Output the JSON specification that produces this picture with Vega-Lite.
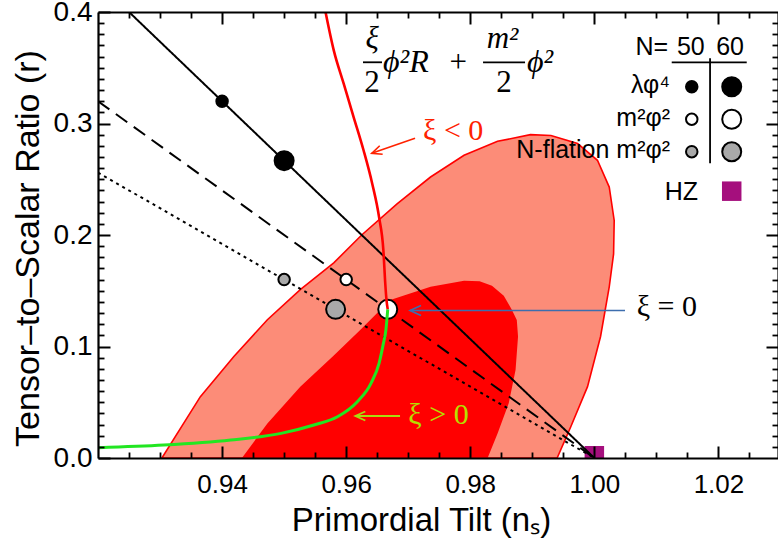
{
  "$schema": "https://vega.github.io/schema/vega-lite/v6.json",
  "width": 680,
  "height": 446,
  "autosize": {"type": "none"},
  "padding": {"left": 98, "top": 12, "right": 0, "bottom": 86},
  "background": "white",
  "config": {
    "view": {"stroke": null},
    "axis": {"labelFont": "Liberation Sans", "titleFont": "Liberation Sans", "labelColor": "black", "titleColor": "black", "tickColor": "black", "domainColor": "black", "grid": false, "titleFontWeight": "normal"}
  },
  "datasets": {
    "outer": [
      {"i": 1, "n": 0.9303, "r": 0},
      {"i": 2, "n": 0.9365, "r": 0.055},
      {"i": 3, "n": 0.9419, "r": 0.091},
      {"i": 4, "n": 0.9473, "r": 0.124},
      {"i": 5, "n": 0.9526, "r": 0.151},
      {"i": 6, "n": 0.958, "r": 0.175},
      {"i": 7, "n": 0.9625, "r": 0.2},
      {"i": 8, "n": 0.9682, "r": 0.228},
      {"i": 9, "n": 0.9736, "r": 0.252},
      {"i": 10, "n": 0.979, "r": 0.2715},
      {"i": 11, "n": 0.9844, "r": 0.284},
      {"i": 12, "n": 0.9897, "r": 0.29},
      {"i": 13, "n": 0.993, "r": 0.2892},
      {"i": 14, "n": 0.9973, "r": 0.282},
      {"i": 15, "n": 1.0005, "r": 0.267},
      {"i": 16, "n": 1.0024, "r": 0.243},
      {"i": 17, "n": 1.0032, "r": 0.213},
      {"i": 18, "n": 1.0031, "r": 0.183},
      {"i": 19, "n": 1.0024, "r": 0.1535},
      {"i": 20, "n": 1.001, "r": 0.109},
      {"i": 21, "n": 0.9989, "r": 0.064},
      {"i": 22, "n": 0.9962, "r": 0.028},
      {"i": 23, "n": 0.994, "r": 0}
    ],
    "inner": [
      {"i": 1, "n": 0.9432, "r": 0},
      {"i": 2, "n": 0.9473, "r": 0.031},
      {"i": 3, "n": 0.9526, "r": 0.064},
      {"i": 4, "n": 0.958, "r": 0.092},
      {"i": 5, "n": 0.9623, "r": 0.115},
      {"i": 6, "n": 0.9671, "r": 0.1416},
      {"i": 7, "n": 0.9736, "r": 0.1535},
      {"i": 8, "n": 0.979, "r": 0.159},
      {"i": 9, "n": 0.9815, "r": 0.1585},
      {"i": 10, "n": 0.9835, "r": 0.1545},
      {"i": 11, "n": 0.9854, "r": 0.1455},
      {"i": 12, "n": 0.9867, "r": 0.133},
      {"i": 13, "n": 0.9875, "r": 0.1237},
      {"i": 14, "n": 0.9877, "r": 0.109},
      {"i": 15, "n": 0.9873, "r": 0.079},
      {"i": 16, "n": 0.9862, "r": 0.049},
      {"i": 17, "n": 0.9844, "r": 0.022},
      {"i": 18, "n": 0.9828, "r": 0}
    ],
    "hz": [
      {"n": 1.0, "r": 0.002},
      {"n": 1.02214, "r": 0.2393}
    ],
    "lines": [
      {"model": "solid", "n": 0.925, "r": 0.4},
      {"model": "solid", "n": 1.0, "r": 0.0},
      {"model": "dashed", "n": 0.92, "r": 0.32},
      {"model": "dashed", "n": 1.0, "r": 0.0},
      {"model": "dotted", "n": 0.92, "r": 0.256},
      {"model": "dotted", "n": 1.0, "r": 0.0}
    ],
    "pts": [
      {"m": "a", "N": 50, "n": 0.94, "r": 0.32},
      {"m": "a", "N": 60, "n": 0.95, "r": 0.2667},
      {"m": "b", "N": 50, "n": 0.96, "r": 0.16},
      {"m": "b", "N": 60, "n": 0.9667, "r": 0.1333},
      {"m": "c", "N": 50, "n": 0.95, "r": 0.16},
      {"m": "c", "N": 60, "n": 0.9583, "r": 0.1333},
      {"m": "a", "N": 50, "n": 1.0157, "r": 0.333},
      {"m": "a", "N": 60, "n": 1.02214, "r": 0.333},
      {"m": "b", "N": 50, "n": 1.0157, "r": 0.3038},
      {"m": "b", "N": 60, "n": 1.02214, "r": 0.3038},
      {"m": "c", "N": 50, "n": 1.0157, "r": 0.2747},
      {"m": "c", "N": 60, "n": 1.02214, "r": 0.2747}
    ],
    "red": [
      {"i": 1, "n": 0.9566, "r": 0.402},
      {"i": 2, "n": 0.958, "r": 0.3656},
      {"i": 3, "n": 0.9596, "r": 0.3357},
      {"i": 4, "n": 0.9612, "r": 0.3058},
      {"i": 5, "n": 0.9628, "r": 0.276},
      {"i": 6, "n": 0.9642, "r": 0.246},
      {"i": 7, "n": 0.9653, "r": 0.216},
      {"i": 8, "n": 0.966, "r": 0.186},
      {"i": 9, "n": 0.9663, "r": 0.1565},
      {"i": 10, "n": 0.9665, "r": 0.1416},
      {"i": 11, "n": 0.9667, "r": 0.1333}
    ],
    "green": [
      {"i": 1, "n": 0.92, "r": 0.0093},
      {"i": 2, "n": 0.9306, "r": 0.0116},
      {"i": 3, "n": 0.9414, "r": 0.0161},
      {"i": 4, "n": 0.9495, "r": 0.0221},
      {"i": 5, "n": 0.9548, "r": 0.0296},
      {"i": 6, "n": 0.9586, "r": 0.037},
      {"i": 7, "n": 0.9618, "r": 0.0505},
      {"i": 8, "n": 0.964, "r": 0.067},
      {"i": 9, "n": 0.9653, "r": 0.0849},
      {"i": 10, "n": 0.966, "r": 0.1028},
      {"i": 11, "n": 0.9664, "r": 0.1147},
      {"i": 12, "n": 0.9667, "r": 0.1333}
    ],
    "blackRules": [
      {"n": 0.96271, "n2": 0.96577, "r": 0.3549, "r2": 0.3549},
      {"n": 0.98206, "n2": 0.98883, "r": 0.3549, "r2": 0.3549},
      {"n": 1.01247, "n2": 1.02456, "r": 0.3549, "r2": 0.3549},
      {"n": 1.01865, "n2": 1.01865, "r": 0.3585, "r2": 0.2643}
    ],
    "redArrow": [{"n": 0.9711, "r": 0.28673, "n2": 0.96412, "r2": 0.27327}],
    "blueArrow": [{"n": 1.00494, "r": 0.13229, "n2": 0.97029, "r2": 0.13229}],
    "ygArrow": [{"n": 0.96868, "r": 0.03767, "n2": 0.96147, "r2": 0.03767}],
    "legendR": [
      {"t": "N=", "n": 1.0119, "r": 0.3614},
      {"t": "λφ⁴", "n": 1.0122, "r": 0.3276},
      {"t": "m²φ²", "n": 1.0122, "r": 0.2978},
      {"t": "N-flation m²φ²", "n": 1.0122, "r": 0.2688},
      {"t": "HZ", "n": 1.0167, "r": 0.2314}
    ],
    "legendC": [
      {"t": "50", "n": 1.01555, "r": 0.3614},
      {"t": "60", "n": 1.02187, "r": 0.3614}
    ],
    "mathItalicC": [
      {"t": "ξ", "n": 0.96417, "r": 0.3677},
      {"t": "m²", "n": 0.9852, "r": 0.3677}
    ],
    "mathC": [
      {"t": "2", "n": 0.96417, "r": 0.3283},
      {"t": "2", "n": 0.98544, "r": 0.3283},
      {"t": "+", "n": 0.97808, "r": 0.3462}
    ],
    "mathItalicL": [
      {"t": "ϕ²R", "n": 0.96594, "r": 0.3462},
      {"t": "ϕ²", "n": 0.98915, "r": 0.3462}
    ],
    "annRed": [{"t": "ξ < 0", "n": 0.97239, "r": 0.2852}],
    "annBlack": [{"t": "ξ = 0", "n": 1.00683, "r": 0.1274}],
    "annYg": [{"t": "ξ > 0", "n": 0.97002, "r": 0.0305}]
  },
  "resolve": {"scale": {"x": "independent", "y": "independent"}, "axis": {"x": "independent", "y": "independent"}},
  "layer": [
    {
      "data": {"name": "outer"},
      "mark": {"type": "line", "interpolate": "linear-closed", "fill": "#fc8c78", "stroke": "#ff0000", "strokeWidth": 1.6, "clip": true},
      "encoding": {
        "x": {"field": "n", "type": "quantitative", "scale": {"domain": [0.92, 1.0296], "nice": false, "zero": false},
          "axis": {"orient": "bottom", "offset": -12, "values": [0.94, 0.96, 0.98, 1, 1.02], "format": ".2f", "ticks": true, "tickSize": 12, "tickWidth": 2, "tickColor": "black", "domain": false, "labelFontSize": 26, "labelPadding": 13, "labelFlush": false, "labelOverlap": false, "title": "Primordial Tilt (nₛ)", "titleFontSize": 33, "titleX": 323, "titleY": 84, "titleBaseline": "alphabetic", "zindex": 1}},
        "y": {"field": "r", "type": "quantitative", "scale": {"domain": [0, 0.4], "nice": false, "zero": false},
          "axis": {"orient": "left", "offset": -12, "values": [0, 0.1, 0.2, 0.3, 0.4], "format": ".1f", "ticks": true, "tickSize": 12, "tickWidth": 2, "tickColor": "black", "domain": false, "labelFontSize": 28, "labelPadding": 6, "labelFlush": false, "labelOverlap": false, "title": "Tensor–to–Scalar Ratio (r)", "titleFontSize": 34, "titleX": -72, "titleY": 236, "titleBaseline": "alphabetic", "zindex": 1}},
        "order": {"field": "i", "type": "quantitative"}
      }
    },
    {
      "data": {"name": "inner"},
      "mark": {"type": "line", "interpolate": "linear-closed", "fill": "#ff0000", "stroke": null, "strokeWidth": 0, "clip": true},
      "encoding": {
        "x": {"field": "n", "type": "quantitative", "scale": {"domain": [0.92, 1.0296], "nice": false, "zero": false},
          "axis": {"orient": "bottom", "offset": -6, "values": [0.925, 0.93, 0.935, 0.945, 0.95, 0.955, 0.965, 0.97, 0.975, 0.985, 0.99, 0.995, 1.005, 1.01, 1.015, 1.025], "tickSize": 6, "tickWidth": 1.8, "tickColor": "black", "labels": false, "domain": false, "title": null, "zindex": 1}},
        "y": {"field": "r", "type": "quantitative", "scale": {"domain": [0, 0.4], "nice": false, "zero": false},
          "axis": {"orient": "left", "offset": -6, "values": [0.01, 0.02, 0.03, 0.04, 0.05, 0.06, 0.07, 0.08, 0.09, 0.11, 0.12, 0.13, 0.14, 0.15, 0.16, 0.17, 0.18, 0.19, 0.21, 0.22, 0.23, 0.24, 0.25, 0.26, 0.27, 0.28, 0.29, 0.31, 0.32, 0.33, 0.34, 0.35, 0.36, 0.37, 0.38, 0.39], "tickSize": 6, "tickWidth": 1.8, "tickColor": "black", "labels": false, "domain": false, "title": null, "zindex": 1}},
        "order": {"field": "i", "type": "quantitative"}
      }
    },
    {
      "data": {"name": "hz"},
      "mark": {"type": "point", "shape": "square", "filled": true, "color": "#a50f7d", "opacity": 1, "size": 380, "clip": true},
      "encoding": {
        "x": {"field": "n", "type": "quantitative", "scale": {"domain": [0.92, 1.0296], "nice": false, "zero": false},
          "axis": {"orient": "bottom", "ticks": false, "tickSize": 0, "labels": false, "domain": true, "domainWidth": 2.2, "domainColor": "black", "title": null, "zindex": 1}},
        "y": {"field": "r", "type": "quantitative", "scale": {"domain": [0, 0.4], "nice": false, "zero": false},
          "axis": {"orient": "left", "ticks": false, "tickSize": 0, "labels": false, "domain": true, "domainWidth": 2.2, "domainColor": "black", "title": null, "zindex": 1}}
      }
    },
    {
      "data": {"name": "lines"},
      "mark": {"type": "line", "color": "black", "strokeWidth": 2, "clip": true},
      "encoding": {
        "x": {"field": "n", "type": "quantitative", "scale": {"domain": [0.92, 1.0296], "nice": false, "zero": false},
          "axis": {"orient": "top", "offset": -12, "values": [0.94, 0.96, 0.98, 1, 1.02], "tickSize": 12, "tickWidth": 2, "tickColor": "black", "labels": false, "domain": false, "title": null, "zindex": 1}},
        "y": {"field": "r", "type": "quantitative", "scale": {"domain": [0, 0.4], "nice": false, "zero": false},
          "axis": {"orient": "right", "offset": -12, "values": [0.1, 0.2, 0.3], "tickSize": 12, "tickWidth": 2, "tickColor": "black", "labels": false, "domain": false, "title": null, "zindex": 1}},
        "strokeDash": {"field": "model", "type": "nominal", "scale": {"domain": ["solid", "dashed", "dotted"], "range": [[1, 0], [14, 8], [3, 4]]}, "legend": null}
      }
    },
    {
      "data": {"name": "pts"},
      "mark": {"type": "point", "shape": "circle", "filled": true, "stroke": "black", "strokeWidth": 2, "opacity": 1},
      "encoding": {
        "x": {"field": "n", "type": "quantitative", "scale": {"domain": [0.92, 1.0296], "nice": false, "zero": false},
          "axis": {"orient": "top", "offset": -6, "values": [0.925, 0.93, 0.935, 0.945, 0.95, 0.955, 0.965, 0.97, 0.975, 0.985, 0.99, 0.995, 1.005, 1.01, 1.015, 1.025], "tickSize": 6, "tickWidth": 1.8, "tickColor": "black", "labels": false, "domain": false, "title": null, "zindex": 1}},
        "y": {"field": "r", "type": "quantitative", "scale": {"domain": [0, 0.4], "nice": false, "zero": false},
          "axis": {"orient": "right", "offset": -6, "values": [0.01, 0.02, 0.03, 0.04, 0.05, 0.06, 0.07, 0.08, 0.09, 0.11, 0.12, 0.13, 0.14, 0.15, 0.16, 0.17, 0.18, 0.19, 0.21, 0.22, 0.23, 0.24, 0.25, 0.26, 0.27, 0.28, 0.29, 0.31, 0.32, 0.33, 0.34, 0.35, 0.36, 0.37, 0.38, 0.39], "tickSize": 6, "tickWidth": 1.8, "tickColor": "black", "labels": false, "domain": false, "title": null, "zindex": 1}},
        "fill": {"field": "m", "type": "nominal", "scale": {"domain": ["a", "b", "c"], "range": ["black", "white", "#a9a9a9"]}, "legend": null},
        "size": {"field": "N", "type": "ordinal", "scale": {"domain": [50, 60], "range": [132, 361]}, "legend": null}
      }
    },
    {
      "data": {"name": "red"},
      "mark": {"type": "line", "color": "#ff0000", "strokeWidth": 2.6, "interpolate": "monotone", "clip": true},
      "encoding": {
        "x": {"field": "n", "type": "quantitative", "scale": {"domain": [0.92, 1.0296], "nice": false, "zero": false},
          "axis": {"orient": "top", "ticks": false, "tickSize": 0, "labels": false, "domain": true, "domainWidth": 2.2, "domainColor": "black", "title": null, "zindex": 1}},
        "y": {"field": "r", "type": "quantitative", "scale": {"domain": [0, 0.4], "nice": false, "zero": false},
          "axis": {"orient": "right", "ticks": false, "tickSize": 0, "labels": false, "domain": true, "domainWidth": 2.2, "domainColor": "black", "title": null, "zindex": 1}},
        "order": {"field": "i", "type": "quantitative"}
      }
    },
    {
      "data": {"name": "green"},
      "mark": {"type": "line", "color": "#22e622", "strokeWidth": 3, "interpolate": "monotone", "clip": true},
      "encoding": {
        "x": {"field": "n", "type": "quantitative", "scale": {"domain": [0.92, 1.0296], "nice": false, "zero": false}, "axis": null},
        "y": {"field": "r", "type": "quantitative", "scale": {"domain": [0, 0.4], "nice": false, "zero": false}, "axis": null},
        "order": {"field": "i", "type": "quantitative"}
      }
    },
    {
      "data": {"name": "blackRules"},
      "mark": {"type": "rule", "color": "black", "strokeWidth": 1.8},
      "encoding": {
        "x": {"field": "n", "type": "quantitative", "scale": {"domain": [0.92, 1.0296], "nice": false, "zero": false}, "axis": null},
        "y": {"field": "r", "type": "quantitative", "scale": {"domain": [0, 0.4], "nice": false, "zero": false}, "axis": null},
        "x2": {"field": "n2"}, "y2": {"field": "r2"}
      }
    },
    {
      "data": {"name": "redArrow"},
      "mark": {"type": "rule", "color": "#ff2200", "strokeWidth": 1.6},
      "encoding": {
        "x": {"field": "n", "type": "quantitative", "scale": {"domain": [0.92, 1.0296], "nice": false, "zero": false}, "axis": null},
        "y": {"field": "r", "type": "quantitative", "scale": {"domain": [0, 0.4], "nice": false, "zero": false}, "axis": null},
        "x2": {"field": "n2"}, "y2": {"field": "r2"}
      }
    },
    {
      "data": {"name": "redArrow"},
      "mark": {"type": "point", "shape": "M -1 -0.45 L 0 0 L -1 0.45", "filled": false, "stroke": "#ff2200", "strokeWidth": 1.6, "opacity": 1, "size": 400, "angle": 160.9},
      "encoding": {
        "x": {"field": "n2", "type": "quantitative", "scale": {"domain": [0.92, 1.0296], "nice": false, "zero": false}, "axis": null},
        "y": {"field": "r2", "type": "quantitative", "scale": {"domain": [0, 0.4], "nice": false, "zero": false}, "axis": null}
      }
    },
    {
      "data": {"name": "blueArrow"},
      "mark": {"type": "rule", "color": "#3d6eae", "strokeWidth": 1.6},
      "encoding": {
        "x": {"field": "n", "type": "quantitative", "scale": {"domain": [0.92, 1.0296], "nice": false, "zero": false}, "axis": null},
        "y": {"field": "r", "type": "quantitative", "scale": {"domain": [0, 0.4], "nice": false, "zero": false}, "axis": null},
        "x2": {"field": "n2"}, "y2": {"field": "r2"}
      }
    },
    {
      "data": {"name": "blueArrow"},
      "mark": {"type": "point", "shape": "M -1 -0.45 L 0 0 L -1 0.45", "filled": false, "stroke": "#3d6eae", "strokeWidth": 1.6, "opacity": 1, "size": 484, "angle": 180},
      "encoding": {
        "x": {"field": "n2", "type": "quantitative", "scale": {"domain": [0.92, 1.0296], "nice": false, "zero": false}, "axis": null},
        "y": {"field": "r2", "type": "quantitative", "scale": {"domain": [0, 0.4], "nice": false, "zero": false}, "axis": null}
      }
    },
    {
      "data": {"name": "ygArrow"},
      "mark": {"type": "rule", "color": "#a8dc10", "strokeWidth": 1.8},
      "encoding": {
        "x": {"field": "n", "type": "quantitative", "scale": {"domain": [0.92, 1.0296], "nice": false, "zero": false}, "axis": null},
        "y": {"field": "r", "type": "quantitative", "scale": {"domain": [0, 0.4], "nice": false, "zero": false}, "axis": null},
        "x2": {"field": "n2"}, "y2": {"field": "r2"}
      }
    },
    {
      "data": {"name": "ygArrow"},
      "mark": {"type": "point", "shape": "M -1 -0.45 L 0 0 L -1 0.45", "filled": false, "stroke": "#a8dc10", "strokeWidth": 1.8, "opacity": 1, "size": 400, "angle": 180},
      "encoding": {
        "x": {"field": "n2", "type": "quantitative", "scale": {"domain": [0.92, 1.0296], "nice": false, "zero": false}, "axis": null},
        "y": {"field": "r2", "type": "quantitative", "scale": {"domain": [0, 0.4], "nice": false, "zero": false}, "axis": null}
      }
    },
    {
      "data": {"name": "legendR"},
      "mark": {"type": "text", "align": "right", "baseline": "alphabetic", "font": "Liberation Sans", "fontSize": 25, "color": "black"},
      "encoding": {
        "x": {"field": "n", "type": "quantitative", "scale": {"domain": [0.92, 1.0296], "nice": false, "zero": false}, "axis": null},
        "y": {"field": "r", "type": "quantitative", "scale": {"domain": [0, 0.4], "nice": false, "zero": false}, "axis": null},
        "text": {"field": "t"}
      }
    },
    {
      "data": {"name": "legendC"},
      "mark": {"type": "text", "align": "center", "baseline": "alphabetic", "font": "Liberation Sans", "fontSize": 25, "color": "black"},
      "encoding": {
        "x": {"field": "n", "type": "quantitative", "scale": {"domain": [0.92, 1.0296], "nice": false, "zero": false}, "axis": null},
        "y": {"field": "r", "type": "quantitative", "scale": {"domain": [0, 0.4], "nice": false, "zero": false}, "axis": null},
        "text": {"field": "t"}
      }
    },
    {
      "data": {"name": "mathItalicC"},
      "mark": {"type": "text", "align": "center", "baseline": "alphabetic", "font": "Liberation Serif", "fontStyle": "italic", "fontSize": 31, "color": "black"},
      "encoding": {
        "x": {"field": "n", "type": "quantitative", "scale": {"domain": [0.92, 1.0296], "nice": false, "zero": false}, "axis": null},
        "y": {"field": "r", "type": "quantitative", "scale": {"domain": [0, 0.4], "nice": false, "zero": false}, "axis": null},
        "text": {"field": "t"}
      }
    },
    {
      "data": {"name": "mathC"},
      "mark": {"type": "text", "align": "center", "baseline": "alphabetic", "font": "Liberation Serif", "fontSize": 31, "color": "black"},
      "encoding": {
        "x": {"field": "n", "type": "quantitative", "scale": {"domain": [0.92, 1.0296], "nice": false, "zero": false}, "axis": null},
        "y": {"field": "r", "type": "quantitative", "scale": {"domain": [0, 0.4], "nice": false, "zero": false}, "axis": null},
        "text": {"field": "t"}
      }
    },
    {
      "data": {"name": "mathItalicL"},
      "mark": {"type": "text", "align": "left", "baseline": "alphabetic", "font": "Liberation Serif", "fontStyle": "italic", "fontSize": 32, "color": "black"},
      "encoding": {
        "x": {"field": "n", "type": "quantitative", "scale": {"domain": [0.92, 1.0296], "nice": false, "zero": false}, "axis": null},
        "y": {"field": "r", "type": "quantitative", "scale": {"domain": [0, 0.4], "nice": false, "zero": false}, "axis": null},
        "text": {"field": "t"}
      }
    },
    {
      "data": {"name": "annRed"},
      "mark": {"type": "text", "align": "left", "baseline": "alphabetic", "font": "Liberation Serif", "fontSize": 30, "color": "#ff2200"},
      "encoding": {
        "x": {"field": "n", "type": "quantitative", "scale": {"domain": [0.92, 1.0296], "nice": false, "zero": false}, "axis": null},
        "y": {"field": "r", "type": "quantitative", "scale": {"domain": [0, 0.4], "nice": false, "zero": false}, "axis": null},
        "text": {"field": "t"}
      }
    },
    {
      "data": {"name": "annBlack"},
      "mark": {"type": "text", "align": "left", "baseline": "alphabetic", "font": "Liberation Serif", "fontSize": 30, "color": "black"},
      "encoding": {
        "x": {"field": "n", "type": "quantitative", "scale": {"domain": [0.92, 1.0296], "nice": false, "zero": false}, "axis": null},
        "y": {"field": "r", "type": "quantitative", "scale": {"domain": [0, 0.4], "nice": false, "zero": false}, "axis": null},
        "text": {"field": "t"}
      }
    },
    {
      "data": {"name": "annYg"},
      "mark": {"type": "text", "align": "left", "baseline": "alphabetic", "font": "Liberation Serif", "fontSize": 30, "color": "#b5e000"},
      "encoding": {
        "x": {"field": "n", "type": "quantitative", "scale": {"domain": [0.92, 1.0296], "nice": false, "zero": false}, "axis": null},
        "y": {"field": "r", "type": "quantitative", "scale": {"domain": [0, 0.4], "nice": false, "zero": false}, "axis": null},
        "text": {"field": "t"}
      }
    }
  ]
}
